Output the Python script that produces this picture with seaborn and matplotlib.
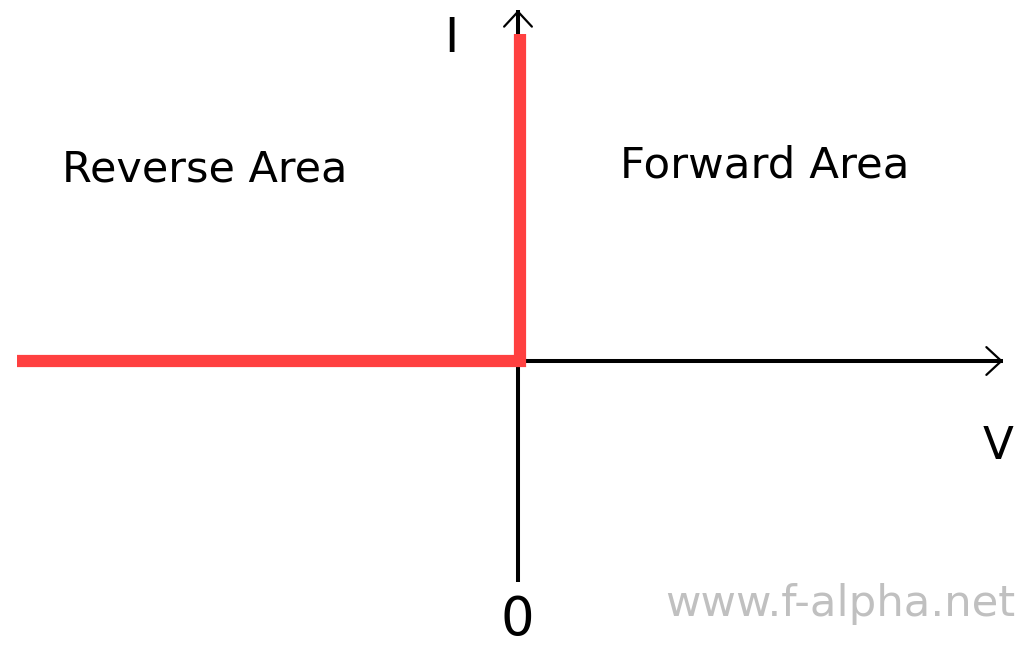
import matplotlib
matplotlib.use("Agg")
import matplotlib.pyplot as plt
import seaborn as sns

# ideal diode characteristic (arbitrary units, origin at the axis crossing)
voltage = [-501, 2, 2]
current = [0, 0, 327]

# axis extents
v_axis = [0, 485]
i_axis = [-221, 351]

region_labels = ["Reverse Area", "Forward Area"]
axis_labels = ["V", "I", "0"]
watermark = "www.f-alpha.net"

sns.set_style("white")
plt.rcParams['font.family'] = ['DejaVu Sans']
plt.rcParams['text.color'] = 'black'

fig = plt.figure(figsize=(10.25, 6.46), dpi=100)
ax = fig.add_axes([0, 0, 1, 1])
ax.set_xlim(-518, 507)
ax.set_ylim(-285, 361)
ax.axis("off")

# axes with open arrow heads
ax.plot(v_axis, [0, 0], color="black", lw=2.9, solid_capstyle="butt")
ax.plot([0, 0], i_axis, color="black", lw=2.9, solid_capstyle="butt")
head = dict(arrowstyle="->,head_length=0.54,head_width=0.5", lw=1.6,
            color="black", mutation_scale=20, shrinkA=0, shrinkB=0)
ax.annotate("", xy=(v_axis[1], 0), xytext=(v_axis[1] - 20, 0), arrowprops=head)
ax.annotate("", xy=(0, i_axis[1]), xytext=(0, i_axis[1] - 20), arrowprops=head)

# characteristic curve
sns.lineplot(x=voltage, y=current, sort=False, estimator=None, ax=ax,
             color="#ff4040", lw=8.8)
for ln in ax.lines[-1:]:
    ln.set_solid_capstyle("butt")
    ln.set_solid_joinstyle("miter")

ax.text(-456, 180, region_labels[0], fontsize=31, va="baseline", ha="left")
ax.text(102, 184, region_labels[1], fontsize=31.3, va="baseline", ha="left")
ax.text(480, -98, axis_labels[0], fontsize=32.5, va="baseline", ha="center")
ax.text(-66.5, 309, axis_labels[1], fontsize=34.5, va="baseline", ha="center")
ax.text(-0.5, -284.5, axis_labels[2], fontsize=38, va="bottom", ha="center")
ax.text(147, -255, watermark, fontsize=31.2, va="baseline", ha="left",
        color="#c0c0c0")

fig.savefig("out.png", dpi=100)
